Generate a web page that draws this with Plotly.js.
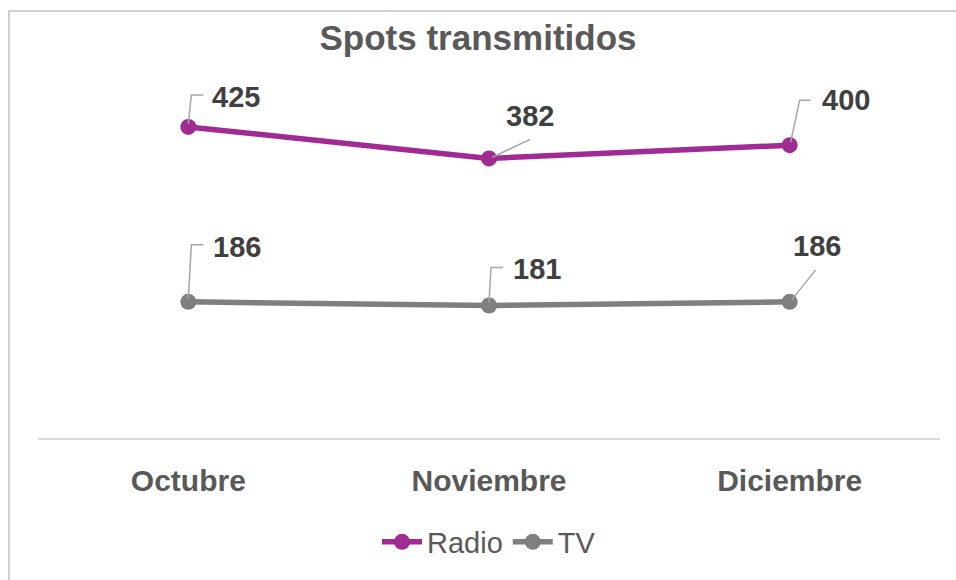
<!DOCTYPE html>
<html>
<head>
<meta charset="utf-8">
<script src="https://cdn.plot.ly/plotly-3.0.1.min.js"></script>
<style>
  html, body { margin: 0; padding: 0; background: #ffffff; }
  #wrap { position: relative; width: 956px; height: 580px; overflow: hidden; }
  #chart { width: 956px; height: 580px; }
  #frame { position: absolute; left: 8px; top: 10px; width: 2000px; height: 2000px;
           border-left: 2px solid #D0D0D0; border-top: 2px solid #D0D0D0; pointer-events: none; }
</style>
</head>
<body>
<div id="wrap">
  <div id="chart"></div>
  <div id="frame"></div>
</div>
<script>
// ---- data ----
const categories = ['Octubre', 'Noviembre', 'Diciembre'];
const radioValues = [425, 382, 400];
const tvValues = [186, 181, 186];
const seriesNames = ['Radio', 'TV'];

// ---- label placement (pixel offsets from each point, and leader paths) ----
const radioLabelOffsets = [[48, 30], [41, 42], [56, 45]];
const tvLabelOffsets = [[49, 55], [48, 37], [27, 56]];
const radioLeaders = ['M0,3 L3,32 L15,32', 'M3,1 L41,19', 'M1,3 L10,45 L21,45'];
const tvLeaders = ['M0,3 L3,57 L15,57', 'M0,3 L2,38 L14,38', 'M2,2 L26,32'];

const purple = '#A02B93';
const gray = '#7F7F7F';
const fontFam = 'Liberation Sans, Arial, sans-serif';

const traces = [
  { x: categories, y: radioValues, name: seriesNames[0], type: 'scatter', mode: 'lines+markers',
    line: { color: purple, width: 5.5 }, marker: { color: purple, size: 16 }, hoverinfo: 'skip' },
  { x: categories, y: tvValues, name: seriesNames[1], type: 'scatter', mode: 'lines+markers',
    line: { color: gray, width: 5.5 }, marker: { color: gray, size: 16 }, hoverinfo: 'skip' }
];

const annotations = [];
const shapes = [];
function addLabels(values, offsets, leaders) {
  values.forEach((v, i) => {
    annotations.push({
      x: categories[i], y: v, xref: 'x', yref: 'y', text: '<b>' + v + '</b>',
      showarrow: false, xshift: offsets[i][0], yshift: offsets[i][1],
      font: { family: fontFam, size: 29, color: '#404040' }
    });
    shapes.push({
      type: 'path', xref: 'x', yref: 'y', xsizemode: 'pixel', ysizemode: 'pixel',
      xanchor: i, yanchor: v, path: leaders[i], layer: 'above',
      line: { color: '#A6A6A6', width: 1.5 }
    });
  });
}
addLabels(radioValues, radioLabelOffsets, radioLeaders);
addLabels(tvValues, tvLabelOffsets, tvLeaders);

const layout = {
  width: 956, height: 580,
  margin: { l: 38, r: 16, t: 72, b: 142 },
  paper_bgcolor: '#ffffff', plot_bgcolor: '#ffffff',
  title: { text: '<b>Spots transmitidos</b>', x: 0.5, xanchor: 'center', y: 0.935, yanchor: 'middle',
           font: { family: fontFam, size: 35, color: '#595959' } },
  xaxis: { type: 'category', range: [-0.5, 2.5], showgrid: false, zeroline: false,
           showline: true, linecolor: '#D9D9D9', linewidth: 2, ticks: '',
           ticklabelstandoff: 15,
           tickfont: { family: fontFam, size: 30, color: '#595959', weight: 'bold' }, fixedrange: true },
  yaxis: { range: [0, 500], visible: false, showgrid: false, zeroline: false, fixedrange: true },
  showlegend: true,
  legend: { orientation: 'h', x: 0.5, xanchor: 'center', y: -0.284, yanchor: 'middle',
            font: { family: fontFam, size: 29, color: '#595959' }, itemwidth: 40 },
  annotations: annotations,
  shapes: shapes
};

Plotly.newPlot('chart', traces, layout, { displayModeBar: false, staticPlot: true });
</script>
</body>
</html>
